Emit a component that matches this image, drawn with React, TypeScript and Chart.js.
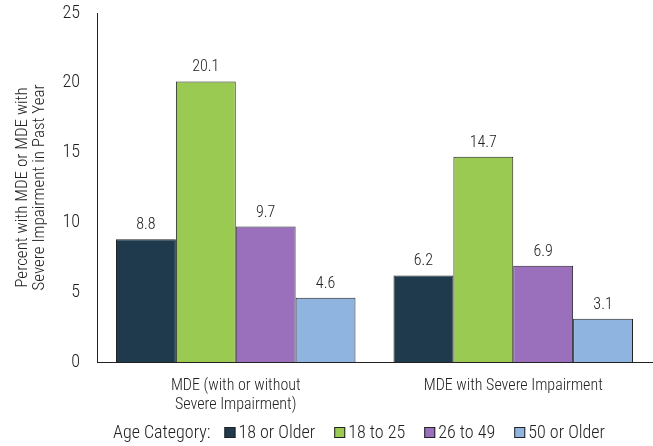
import { useEffect, useRef } from "react"
import { Chart, registerables } from "chart.js"

Chart.register(...registerables)

const categories = [["MDE (with or without", "Severe Impairment)"], "MDE with Severe Impairment"]
const seriesNames = ["18 or Older", "18 to 25", "26 to 49", "50 or Older"]
const older18 = [8.8, 6.2]
const age18to25 = [20.1, 14.7]
const age26to49 = [9.7, 6.9]
const older50 = [4.6, 3.1]
const colors = ["#1f3a4d", "#9aca52", "#9a70bc", "#8fb4e0"]

const FONT = "'Roboto Condensed', sans-serif"

const valueLabels = {
  id: "valueLabels",
  afterDatasetsDraw(chart: any) {
    const ctx = chart.ctx
    ctx.save()
    ctx.font = `300 16px ${FONT}`
    ctx.fillStyle = "#222"
    ctx.textAlign = "center"
    ctx.textBaseline = "bottom"
    chart.data.datasets.forEach((ds: any, i: number) => {
      chart.getDatasetMeta(i).data.forEach((bar: any, j: number) => {
        ctx.fillText(ds.data[j].toFixed(1), bar.x, bar.y - 6)
      })
    })
    ctx.restore()
  },
}

const bottomLegend = {
  id: "bottomLegend",
  afterDraw(chart: any) {
    const ctx = chart.ctx
    ctx.save()
    ctx.font = `300 18px ${FONT}`
    ctx.fillStyle = "#222"
    ctx.textBaseline = "middle"
    const y = 433
    let x = 113
    ctx.fillText("Age Category:", x, y)
    x += ctx.measureText("Age Category:").width + 14
    chart.data.datasets.forEach((ds: any) => {
      ctx.fillStyle = ds.backgroundColor
      ctx.fillRect(x, y - 6, 11, 11)
      ctx.strokeStyle = "#222"
      ctx.lineWidth = 1
      ctx.strokeRect(x + 0.5, y - 5.5, 10, 10)
      x += 14
      ctx.fillStyle = "#222"
      ctx.fillText(ds.label, x, y)
      x += ctx.measureText(ds.label).width + 19
    })
    ctx.restore()
  },
}

const App = () => {
  const chartRef = useRef<HTMLCanvasElement>(null)
  const chartInstance = useRef<Chart | null>(null)

  useEffect(() => {
    document.body.style.margin = "0"
    if (chartRef.current) {
      if (chartInstance.current) {
        chartInstance.current.destroy()
      }
      const ctx = chartRef.current.getContext("2d")
      if (ctx) {
        const values = [older18, age18to25, age26to49, older50]
        chartInstance.current = new Chart(ctx, {
          type: "bar",
          data: {
            labels: categories,
            datasets: seriesNames.map((name, i) => ({
              label: name,
              data: values[i],
              backgroundColor: colors[i],
              borderColor: "#222",
              borderWidth: 1,
              borderSkipped: "bottom",
              barPercentage: 1,
              categoryPercentage: 0.863,
            })),
          },
          options: {
            animation: false,
            responsive: false,
            maintainAspectRatio: false,
            layout: { padding: { top: 13, right: 1, bottom: 0, left: 8 } },
            plugins: {
              legend: { display: false },
              tooltip: { enabled: false },
            },
            scales: {
              x: {
                grid: { display: false, drawTicks: false },
                border: { display: true, color: "#222", width: 1 },
                ticks: {
                  color: "#222",
                  font: { size: 16, family: FONT, weight: "300" },
                  padding: 14,
                  maxRotation: 0,
                },
                afterFit: (s: any) => {
                  s.height = 84
                },
              },
              y: {
                min: 0,
                max: 25,
                grid: { display: false, drawTicks: false },
                border: { display: true, color: "#222", width: 1 },
                ticks: {
                  stepSize: 5,
                  color: "#222",
                  font: { size: 18, family: FONT, weight: "300" },
                  padding: 17,
                },
                title: {
                  display: true,
                  text: ["Percent with MDE or MDE with", "Severe Impairment in Past Year"],
                  color: "#222",
                  font: { size: 17, family: FONT, weight: "300", lineHeight: 1.0 },
                  padding: { top: 6, bottom: 0 },
                },
                afterFit: (s: any) => {
                  s.width = 89
                  s.paddingTop = 0
                  s.paddingBottom = 0
                },
              },
            },
          },
          plugins: [valueLabels, bottomLegend],
        })
      }
    }
    return () => {
      if (chartInstance.current) {
        chartInstance.current.destroy()
        chartInstance.current = null
      }
    }
  }, [])

  return (
    <div style={{ width: 653, height: 446 }}>
      <canvas ref={chartRef} width={653} height={446} />
    </div>
  )
}

export default App
